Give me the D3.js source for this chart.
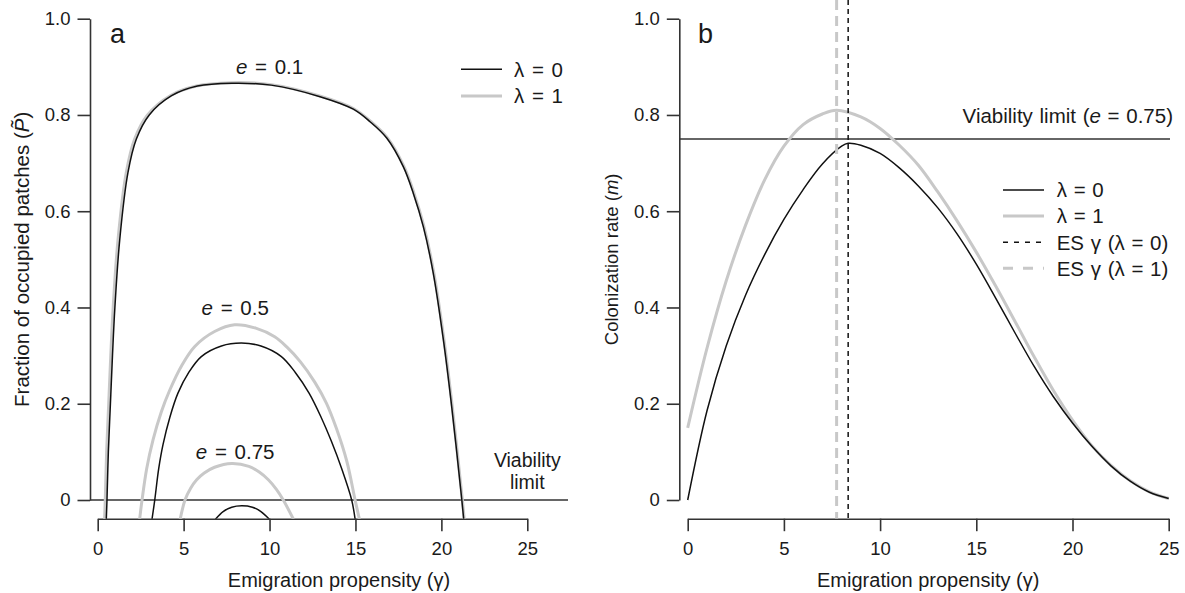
<html>
<head>
<meta charset="utf-8">
<style>
  body { margin: 0; background: #fff; }
  svg text { font-family: "Liberation Sans", Arial, Helvetica, sans-serif; fill: #1a1a1a; white-space: pre; }
</style>
</head>
<body>
<script src="https://cdn.jsdelivr.net/npm/d3@7/dist/d3.min.js"></script>
<script>
// ---- data ----
// panel a: fraction of occupied patches vs emigration propensity (gamma)
var gA01l0 = [0.50, 0.54, 0.62, 0.74, 0.86, 1.0, 1.28, 1.76, 2.25, 3.0, 4.3, 5.8, 7.8, 10.1, 12.94, 14.88, 15.85, 16.82, 17.79, 18.37, 18.95, 19.53, 20.12, 20.6, 21.19, 21.30];
var pA01l0 = [-0.04, 0, 0.1, 0.2, 0.3, 0.4, 0.54, 0.68, 0.75, 0.80, 0.84, 0.86, 0.866, 0.862, 0.838, 0.812, 0.786, 0.752, 0.692, 0.637, 0.568, 0.471, 0.332, 0.194, 0, -0.04];
var gA01l1 = [0.40, 0.44, 0.52, 0.64, 0.76, 0.9, 1.18, 1.66, 2.15, 2.9, 4.22, 5.75, 7.75, 10.1, 12.96, 14.9, 15.87, 16.85, 17.82, 18.4, 18.98, 19.56, 20.15, 20.63, 21.22, 21.33];
var pA01l1 = [-0.04, 0, 0.1, 0.2, 0.3, 0.4, 0.54, 0.68, 0.75, 0.80, 0.84, 0.86, 0.867, 0.863, 0.839, 0.813, 0.787, 0.753, 0.693, 0.638, 0.569, 0.472, 0.333, 0.195, 0, -0.04];

var gA05l0 = [3.16, 3.32, 3.55, 3.8, 4.2, 4.67, 5.3, 6.03, 7.2, 8.36, 9.5, 10.69, 11.5, 12.3, 13.0, 13.6, 14.2, 14.78, 14.98];
var pA05l0 = [-0.04, 0, 0.065, 0.115, 0.172, 0.222, 0.265, 0.298, 0.320, 0.326, 0.320, 0.298, 0.265, 0.222, 0.172, 0.122, 0.065, 0, -0.04];
var gA05l1 = [2.44, 2.58, 2.85, 3.22, 3.7, 4.19, 4.9, 5.65, 6.8, 7.97, 9.2, 10.3, 11.0, 11.8, 12.63, 13.3, 13.9, 14.5, 14.98, 15.23];
var pA05l1 = [-0.04, 0, 0.065, 0.125, 0.183, 0.228, 0.28, 0.319, 0.350, 0.364, 0.357, 0.339, 0.318, 0.287, 0.245, 0.202, 0.148, 0.08, 0, -0.04];

var gA075l0 = [6.85, 7.3, 7.8, 8.38, 9.0, 9.5, 9.99];
var pA075l0 = [-0.04, -0.024, -0.015, -0.012, -0.015, -0.024, -0.04];
var gA075l1 = [4.8, 5.08, 5.4, 5.76, 6.2, 6.8, 7.8, 8.8, 9.4, 9.93, 10.4, 10.8, 11.39];
var pA075l1 = [-0.04, 0, 0.024, 0.042, 0.056, 0.068, 0.076, 0.07, 0.058, 0.042, 0.022, 0, -0.04];

// panel b: colonization rate (m) vs emigration propensity (gamma)
var gBl0 = [0, 1, 2, 3, 4, 5, 6, 7, 8, 8.34, 9, 10, 11, 12, 13, 14, 15, 16, 17, 18, 19, 20, 21, 22, 23, 24, 25];
var mBl0 = [0, 0.185, 0.32, 0.425, 0.51, 0.583, 0.645, 0.698, 0.735, 0.741, 0.737, 0.72, 0.69, 0.652, 0.607, 0.553, 0.49, 0.42, 0.348, 0.278, 0.215, 0.16, 0.112, 0.071, 0.039, 0.016, 0.003];
var gBl1 = [0, 1, 2, 3, 4, 5, 6, 7, 7.74, 9, 10, 11, 12, 13, 14, 15, 16, 17, 18, 19, 20, 21, 22, 23, 24, 25];
var mBl1 = [0.15, 0.315, 0.455, 0.57, 0.665, 0.735, 0.78, 0.802, 0.81, 0.796, 0.772, 0.737, 0.695, 0.64, 0.58, 0.515, 0.445, 0.372, 0.298, 0.228, 0.166, 0.113, 0.072, 0.04, 0.017, 0.003];

var esGamma = [8.34, 7.74];        // ES gamma for lambda = 0, lambda = 1
var viabilityA = 0;                // panel a viability limit
var viabilityB = 0.75;             // panel b viability limit (e = 0.75)

var xTicks = [0, 5, 10, 15, 20, 25];
var yTicks = [0, 0.2, 0.4, 0.6, 0.8, 1.0];
var eLabels = ["0.1", "0.5", "0.75"];
var eLabelX = [10, 8, 8];
var eLabelY = [0.9, 0.4, 0.1];
var legendA = ["λ = 0", "λ = 1"];
var legendB = ["λ = 0", "λ = 1", "ES γ (λ = 0)", "ES γ (λ = 1)"];

// ---- drawing ----
var width = 1185, height = 593;
var black = "#111", gray = "#c8c8c8", axisCol = "#333";

var svg = d3.select("body").append("svg")
  .attr("width", width).attr("height", height);

var xA = d3.scaleLinear().domain([0, 25]).range([97.7, 527.3]);
var yA = d3.scaleLinear().domain([0, 1]).range([500, 18.7]);
var xB = d3.scaleLinear().domain([0, 25]).range([687.7, 1168.7]);
var yB = d3.scaleLinear().domain([0, 1]).range([500, 18.7]);

var plotBottom = 518.7;

var defs = svg.append("defs");
defs.append("clipPath").attr("id", "clipA").append("rect")
  .attr("x", 90).attr("y", 0).attr("width", 478).attr("height", plotBottom);
defs.append("clipPath").attr("id", "clipB").append("rect")
  .attr("x", 679.3).attr("y", 0).attr("width", 491).attr("height", plotBottom);

function zipPts(gs, vs) { return gs.map(function(g, i) { return [g, vs[i]]; }); }

function styleAxis(g) {
  g.select(".domain").attr("stroke", axisCol).attr("stroke-width", 1.6);
  g.selectAll(".tick line").attr("stroke", axisCol).attr("stroke-width", 1.6);
  g.selectAll(".tick text").style("font-size", "18.5px").attr("fill", "#1a1a1a");
}

function fmtY(d) { return d === 0 ? "0" : d3.format(".1f")(d); }

function drawAxes(x, y, axisX) {
  svg.append("g").attr("transform", "translate(" + axisX + ",0)")
    .call(d3.axisLeft(y).tickValues(yTicks).tickFormat(fmtY).tickSize(12.5).tickSizeOuter(0).tickPadding(7))
    .call(styleAxis);
  svg.append("g").attr("transform", "translate(0," + plotBottom + ")")
    .call(d3.axisBottom(x).tickValues(xTicks).tickFormat(d3.format("d")).tickSize(12.5).tickSizeOuter(0).tickPadding(11))
    .call(styleAxis);
}

drawAxes(xA, yA, 90);
drawAxes(xB, yB, 679.3);

// ---- panel a ----
var lineA = d3.line().x(function(d) { return xA(d[0]); }).y(function(d) { return yA(d[1]); })
  .curve(d3.curveCatmullRom.alpha(0.5));
var gA = svg.append("g").attr("clip-path", "url(#clipA)");

// viability limit line
gA.append("line")
  .attr("x1", 90).attr("x2", 568)
  .attr("y1", yA(viabilityA)).attr("y2", yA(viabilityA))
  .attr("stroke", axisCol).attr("stroke-width", 1.6);

var curvesA = [
  [gA01l1, pA01l1, gray, 3], [gA05l1, pA05l1, gray, 3], [gA075l1, pA075l1, gray, 3],
  [gA01l0, pA01l0, black, 1.5], [gA05l0, pA05l0, black, 1.5], [gA075l0, pA075l0, black, 1.5]
];
curvesA.forEach(function(c) {
  gA.append("path").datum(zipPts(c[0], c[1]))
    .attr("d", lineA).attr("fill", "none")
    .attr("stroke", c[2]).attr("stroke-width", c[3]);
});

// e labels
eLabels.forEach(function(lab, i) {
  var t = svg.append("text")
    .attr("x", xA(eLabelX[i])).attr("y", yA(eLabelY[i])).attr("dy", "0.36em")
    .attr("text-anchor", "middle").style("font-size", "20.5px").style("word-spacing", "2px");
  t.append("tspan").style("font-style", "italic").text("e");
  t.append("tspan").text(" = " + lab);
});

svg.append("text").attr("x", 110).attr("y", 43).style("font-size", "27px").text("a");

svg.append("text").attr("x", xA(25)).attr("y", yA(viabilityA) - 33)
  .attr("text-anchor", "middle").style("font-size", "19.5px").text("Viability");
svg.append("text").attr("x", xA(25)).attr("y", yA(viabilityA) - 11)
  .attr("text-anchor", "middle").style("font-size", "19.5px").text("limit");

// legend a
legendA.forEach(function(lab, i) {
  var yy = 69.3 + i * 26.7;
  svg.append("line").attr("x1", 461).attr("x2", 502).attr("y1", yy).attr("y2", yy)
    .attr("stroke", i === 0 ? black : gray).attr("stroke-width", i === 0 ? 1.5 : 3);
  svg.append("text").attr("x", 514).attr("y", yy).attr("dy", "0.36em")
    .style("font-size", "20.5px").style("word-spacing", "2px").text(lab);
});

// axis titles a
var yTitleA = svg.append("text")
  .attr("transform", "translate(29," + yA(0.5) + ") rotate(-90)")
  .attr("text-anchor", "middle").style("font-size", "20.5px");
yTitleA.append("tspan").text("Fraction of occupied patches (");
yTitleA.append("tspan").style("font-style", "italic").text("P\u0303");
yTitleA.append("tspan").text(")");

svg.append("text").attr("x", 339).attr("y", 587).attr("text-anchor", "middle")
  .style("font-size", "20px").text("Emigration propensity (γ)");

// ---- panel b ----
var lineB = d3.line().x(function(d) { return xB(d[0]); }).y(function(d) { return yB(d[1]); })
  .curve(d3.curveCatmullRom.alpha(0.5));
var gB = svg.append("g").attr("clip-path", "url(#clipB)");

gB.append("line")
  .attr("x1", 679.3).attr("x2", 1170)
  .attr("y1", yB(viabilityB)).attr("y2", yB(viabilityB))
  .attr("stroke", axisCol).attr("stroke-width", 1.6);

gB.append("path").datum(zipPts(gBl1, mBl1)).attr("d", lineB).attr("fill", "none")
  .attr("stroke", gray).attr("stroke-width", 3);
gB.append("path").datum(zipPts(gBl0, mBl0)).attr("d", lineB).attr("fill", "none")
  .attr("stroke", black).attr("stroke-width", 1.5);

// ES gamma lines
gB.append("line").attr("x1", xB(esGamma[1])).attr("x2", xB(esGamma[1]))
  .attr("y1", 0).attr("y2", plotBottom)
  .attr("stroke", gray).attr("stroke-width", 3).attr("stroke-dasharray", "10,6");
gB.append("line").attr("x1", xB(esGamma[0])).attr("x2", xB(esGamma[0]))
  .attr("y1", 0).attr("y2", plotBottom)
  .attr("stroke", black).attr("stroke-width", 1.5).attr("stroke-dasharray", "5,4");

svg.append("text").attr("x", 698).attr("y", 43).style("font-size", "27px").text("b");

var vtB = svg.append("text").attr("x", 1173).attr("y", yB(viabilityB) - 16)
  .attr("text-anchor", "end").style("font-size", "20.5px").style("word-spacing", "1px");
vtB.append("tspan").text("Viability limit (");
vtB.append("tspan").style("font-style", "italic").text("e");
vtB.append("tspan").text(" = 0.75)");

// legend b
legendB.forEach(function(lab, i) {
  var yy = 190 + i * 26.1;
  var ln = svg.append("line").attr("x1", 1003).attr("x2", 1044).attr("y1", yy).attr("y2", yy);
  if (i === 0) ln.attr("stroke", black).attr("stroke-width", 1.5);
  if (i === 1) ln.attr("stroke", gray).attr("stroke-width", 3);
  if (i === 2) ln.attr("stroke", black).attr("stroke-width", 1.5).attr("stroke-dasharray", "5,6");
  if (i === 3) ln.attr("stroke", gray).attr("stroke-width", 3).attr("stroke-dasharray", "10,10");
  svg.append("text").attr("x", 1056.7).attr("y", yy).attr("dy", "0.36em")
    .style("font-size", "20.5px").style("word-spacing", "1px").text(lab);
});

var yTitleB = svg.append("text")
  .attr("transform", "translate(618," + yB(0.5) + ") rotate(-90)")
  .attr("text-anchor", "middle").style("font-size", "18.5px");
yTitleB.append("tspan").text("Colonization rate (");
yTitleB.append("tspan").style("font-style", "italic").text("m");
yTitleB.append("tspan").text(")");

svg.append("text").attr("x", xB(12.5)).attr("y", 587).attr("text-anchor", "middle")
  .style("font-size", "20px").text("Emigration propensity (γ)");
</script>
</body>
</html>
